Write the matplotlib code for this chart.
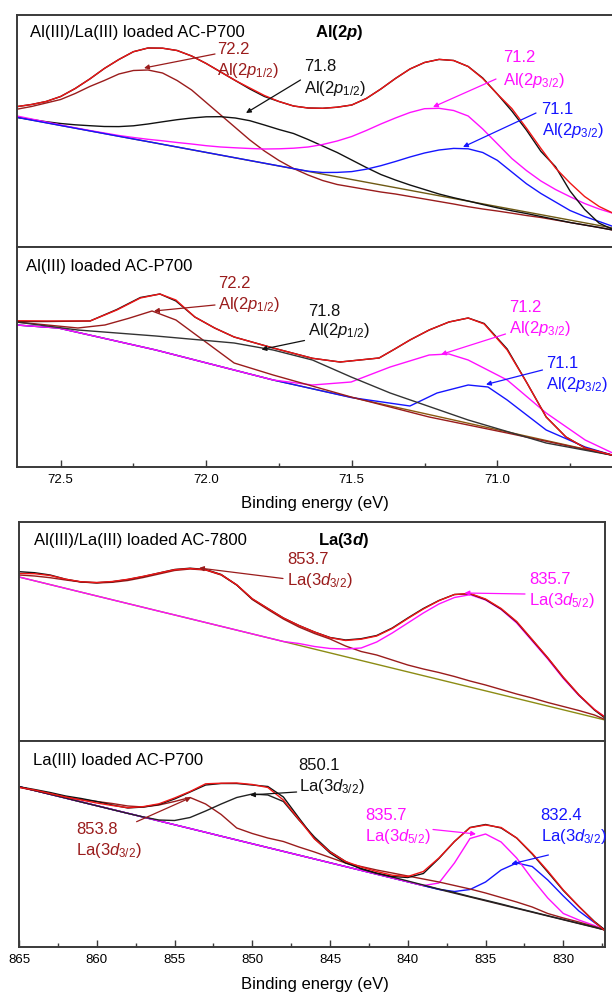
import matplotlib
matplotlib.use("Agg")
import matplotlib.pyplot as plt
from matplotlib.patches import FancyArrowPatch
from matplotlib.ticker import MultipleLocator, FormatStrFormatter

plt.rcParams['font.family'] = ['Liberation Sans', 'DejaVu Sans']
plt.rcParams['mathtext.fontset'] = 'custom'
plt.rcParams['mathtext.rm'] = 'Liberation Sans'
plt.rcParams['mathtext.it'] = 'Liberation Sans:italic'
plt.rcParams['mathtext.bf'] = 'Liberation Sans:bold'
try:
    plt.rcParams['mathtext.bfit'] = 'Liberation Sans:bold:italic'
except KeyError:
    pass

# ---------------- DATA (binding energy eV, intensity a.u.) ----------------
# Panel A1: Al(III)/La(III) loaded AC-P700, Al(2p) -- common energy grid
a1_E = [72.65, 72.60, 72.55, 72.50, 72.45, 72.40, 72.35, 72.30, 72.25, 72.20,
        72.15, 72.10, 72.05, 72.00, 71.95, 71.90, 71.85, 71.80, 71.75, 71.70,
        71.65, 71.60, 71.55, 71.50, 71.45, 71.40, 71.35, 71.30, 71.25, 71.20,
        71.15, 71.10, 71.05, 71.00, 70.95, 70.90, 70.85, 70.80, 70.75, 70.70,
        70.65, 70.60]
a1_fit = [140.4, 142.5, 145.5, 150.5, 158.5, 168, 178.5, 187.5, 195.3, 199,
          198.8, 196.5, 191, 183.5, 175, 166.5, 159, 151.5, 145.5, 141,
          139, 138.7, 139.8, 142, 148.5, 158, 168.5, 178, 184.5, 187.6,
          186.5, 180.5, 168.5, 153, 138.5, 119, 98.5, 79, 64, 50.5,
          40.5, 33.5]
a1_raw = [140.4, 142.5, 145.5, 150.5, 158.5, 168, 178.5, 187.5, 195.3, 199,
          198.8, 196.5, 191, 183.5, 175, 166.5, 158, 150.5, 145.5, 141,
          139, 138.7, 139.8, 142, 148.5, 158, 168.5, 178, 184.5, 187.6,
          186.5, 180.5, 169, 153, 136, 117, 95.6, 80.3, 56, 37.6,
          23.8, 17.2]
a1_p722 = [137.8, 140.5, 144, 147.5, 153.5, 160.5, 166.5, 173, 176.5, 177,
           174, 166.5, 157, 144.5, 132, 119.5, 107, 96, 86.5, 78.5,
           72, 66.5, 62.5, 60, 57.5, 55, 53, 50.5, 48, 45.5,
           43, 40.3, 38, 36, 33.8, 31.5, 29.5, 27, 24.5, 22,
           19.5, 16.8]
a1_p718 = [129.7, 127.5, 125.3, 123.5, 122.2, 121.3, 120.5, 120.4, 121.2, 123,
           125.2, 127.3, 129, 130.2, 130.3, 129, 126.3, 122, 117.5, 113.5,
           107.5, 101, 94.5, 87, 79.5, 72.5, 67, 62, 57.5, 53,
           49.3, 46, 42.5, 39.2, 36.2, 33.5, 30.5, 27.5, 24.5, 22,
           19.5, 16.8]
a1_p712 = [131, 128, 125, 122, 119.2, 116.5, 114, 111.5, 109.5, 107.7,
           106.2, 104.5, 103, 101.3, 100, 99.2, 98.5, 98, 98.2, 98.8,
           100, 102.5, 106, 110.5, 116.5, 123, 129, 134.5, 138.3, 138.7,
           136.5, 131, 118, 103.3, 88.5, 76.5, 66, 57.5, 50.3, 43.5,
           38, 33.5]
a1_p711 = [129.6, 126.9, 124.2, 121.5, 118.8, 116.1, 113.4, 110.7, 108, 105.4,
           102.7, 100, 97.3, 94.6, 91.9, 89.2, 86.5, 83.8, 81.1, 78.4,
           75.8, 74.5, 74.6, 75.4, 77.8, 81.3, 85.5, 90, 94, 97,
           98.6, 98.2, 94.5, 86.7, 75, 63.3, 53.5, 45, 36.5, 30.5,
           25.5, 20.3]
a1_base_E = [72.65, 70.60]
a1_base = [129.7, 18.8]

# Panel A2: Al(III) loaded AC-P700, Al(2p)
a2_fit_E = [72.652, 72.547, 72.399, 72.307, 72.226, 72.159, 72.104, 72.039, 71.971, 71.904,
            71.770, 71.635, 71.540, 71.406, 71.352, 71.300, 71.234, 71.166, 71.100, 71.045,
            70.966, 70.898, 70.832, 70.764, 70.698, 70.600]
a2_fit_I = [146.3, 146, 146, 157, 169, 173, 167, 150, 139, 130,
            119, 108.7, 105, 109, 118, 127, 137, 145, 149, 143,
            117, 84, 50, 30, 19, 11.5]
a2_raw_I = [145.5, 145.5, 146, 157.5, 169.5, 173, 166, 150, 139, 130,
            119, 108.7, 105, 109, 118, 127, 137, 145, 149, 143.5,
            118, 84, 50, 30, 19, 11.5]
a2_p722_E = [72.652, 72.441, 72.348, 72.266, 72.186, 72.104, 72.011, 71.904, 71.770, 71.502,
             71.234, 70.966, 70.600]
a2_p722_I = [145, 139, 142, 148.7, 156, 147, 127, 104, 92, 70,
             50, 34, 11.5]
a2_p718_E = [72.652, 72.441, 72.173, 71.904, 71.770, 71.635, 71.502, 71.368, 71.100, 70.832, 70.600]
a2_p718_I = [145, 137, 131, 124, 117, 107, 90, 74, 47, 24, 11.5]
a2_p712_E = [72.652, 72.508, 72.173, 71.770, 71.635, 71.502, 71.368, 71.234, 71.166, 71.100,
             70.966, 70.832, 70.698, 70.600]
a2_p712_I = [142, 139, 117, 87, 82, 85, 100, 112, 113, 107,
             87, 54, 27, 13.5]
a2_p711_E = [72.652, 72.508, 72.173, 71.770, 71.502, 71.300, 71.207, 71.100, 71.032, 70.966,
             70.832, 70.698, 70.600]
a2_p711_I = [142, 139, 117, 87, 69.5, 61, 74, 82, 80, 67,
             37, 20, 11.5]
a2_base_E = [72.652, 72.508, 72.173, 71.770, 70.600]
a2_base = [142, 139, 117, 87, 11.5]

# La(3d) panels -- common energy grid
la_E = [865, 864, 863, 862, 861, 860, 859, 858, 857, 856,
        855, 854, 853, 852, 851, 850, 849, 848, 847, 846,
        845, 844, 843, 842, 841, 840, 839, 838, 837, 836,
        835, 834, 833, 832, 831, 830, 829, 828, 827.32]

# Panel B1: Al(III)/La(III) loaded AC-7800
b1_raw = [169.3, 168.3, 166, 161.8, 159, 158.3, 159.3, 161.5, 164.5, 168,
          171.5, 172.8, 171.5, 166.5, 156, 142, 132.5, 123, 115.5, 109,
          103.5, 101, 102.3, 105.5, 113, 123, 132.5, 140.5, 146.5, 147.2,
          141.5, 132, 119, 101, 83, 63.5, 46, 31, 23]
b1_fit = [167.5, 167.3, 165.5, 161.8, 159.2, 158.5, 159.5, 161.7, 164.7, 168,
          171.3, 172.5, 171.2, 166.3, 156.2, 142.3, 132.5, 123, 115.5, 109,
          103.3, 100.5, 101.8, 105, 112.5, 122.5, 132, 140.3, 146.5, 147.5,
          142, 132.5, 119.5, 101.5, 83.3, 63.8, 46.3, 31.5, 24]
b1_p8537 = [166, 165, 163.3, 161, 159, 158, 158.7, 160.5, 163.5, 167,
            170.5, 172, 171, 166, 156, 141.5, 131.5, 122, 114, 107.5,
            102, 95, 89.5, 86, 81, 76, 72, 68.5, 64.5, 60,
            56, 51.5, 47, 43, 38.5, 34.5, 30.5, 26, 21.5]
b1_p8357 = [164, 160.2, 156.4, 152.6, 148.8, 145, 141.2, 137.4, 133.6, 129.8,
            126.1, 122.3, 118.5, 114.7, 110.9, 107.1, 103.3, 99.5, 97.5, 94.5,
            92.5, 92, 93, 99, 108, 118, 128, 137, 143.5, 146.3,
            141, 131.5, 118, 100, 82, 62.5, 45.5, 31.5, 24]
b1_base_E = [865, 827.32]
b1_base = [164, 21]

# Panel B2: La(III) loaded AC-P700
b2_raw = [160.3, 157.5, 154.5, 151, 148.5, 145.5, 142, 139, 140, 142.5,
          148, 155, 162, 163.5, 163.5, 162, 160.5, 150, 129, 108.5,
          94, 84, 78.5, 74, 70.5, 69.5, 73.5, 88.5, 105.5, 119.5,
          122.5, 119, 109, 93, 75, 56.5, 40.5, 25.5, 17]
b2_fit = [159.7, 157, 153.5, 150, 147, 144, 141.5, 139.3, 140.4, 143.2,
          149, 155.5, 163.2, 163.8, 164, 162.5, 159.5, 147, 127.5, 108,
          95, 85.5, 80, 75.5, 71.8, 70.5, 75.5, 89, 105.5, 119.3,
          122, 119.5, 109, 93.6, 76, 57, 40.6, 25, 16.3]
b2_p8538 = [159.7, 156.5, 153, 150, 147.5, 145.5, 143.5, 141, 140, 142,
            145.5, 149.5, 143, 132.5, 119, 113.5, 109, 105.5, 100, 95,
            89.5, 84, 80.5, 77, 74, 71, 68, 65, 61.5, 58,
            54, 49.5, 45, 40, 33.5, 29, 25, 20.5, 17]
b2_p8501 = [160.3, 156.5, 152.7, 148.9, 145, 141.2, 137.4, 133.6, 130, 127,
            126.5, 129.5, 136, 143, 149.5, 153, 152, 145.5, 127, 110,
            95.5, 85.5, 78, 73.5, 70, 66, 62, 58, 54.5, 50.5,
            46.8, 43, 39, 35.2, 31.3, 27.5, 23.7, 19.9, 17]
b2_p8357 = [160.3, 156.5, 152.7, 148.9, 145.1, 141.3, 137.5, 133.7, 129.9, 126.1,
            122.3, 118.5, 114.7, 110.8, 107, 103.2, 99.4, 95.6, 91.8, 88,
            84.2, 80.4, 76.6, 72.8, 69, 65.2, 61.4, 64, 84, 108.5,
            113, 105, 89, 68, 49, 33.5, 27, 21.5, 17]
b2_p8324 = [160.3, 156.5, 152.7, 148.9, 145.1, 141.3, 137.5, 133.7, 129.9, 126.1,
            122.3, 118.5, 114.7, 110.8, 107, 103.2, 99.4, 95.6, 91.8, 88,
            84.2, 80.4, 76.6, 72.8, 69, 65.2, 61.4, 57.6, 55.5, 57.5,
            65, 77, 84, 80.5, 67, 51, 36, 24.5, 17]
b2_base_E = [865, 827.32]
b2_base = [160.3, 17]

al_ticks = [72.5, 72.0, 71.5, 71.0]
la_ticks = [865, 860, 855, 850, 845, 840, 835, 830]

# ---------------- STYLE ----------------
W, H = 612, 994
C_DRED = '#9a1c1c'
C_RED = '#f01515'
C_MAG = '#ff10ff'
C_BLUE = '#1515ff'
C_BLK = '#111111'
C_SPINE = '#3a3a3a'
FS = 12

fig = plt.figure(figsize=(W / 100, H / 100), dpi=100)


def rect(l, t, r, b):
    return [l / W, 1 - b / H, (r - l) / W, (b - t) / H]


def fxy(x, y):
    return (x / W, 1 - y / H)


def style_axes(ax, xlim, ylim, show_x):
    ax.set_xlim(*xlim)
    ax.set_ylim(*ylim)
    ax.set_yticks([])
    for s in ax.spines.values():
        s.set_color(C_SPINE)
        s.set_linewidth(1.4)
    if not show_x:
        ax.set_xticks([])


# Al panels run past the right edge of the picture (right border cropped)
axA1 = fig.add_axes(rect(16.7, 15, 614, 247))
axA2 = fig.add_axes(rect(16.7, 247, 614, 467))
axB1 = fig.add_axes(rect(19, 522, 605, 741))
axB2 = fig.add_axes(rect(19, 741, 605, 947))

style_axes(axA1, (72.651, 70.599), (0, 232), False)
style_axes(axA2, (72.651, 70.599), (0, 220), True)
style_axes(axB1, (865, 827.32), (0, 219), False)
style_axes(axB2, (865, 827.32), (0, 206), True)

lw = 1.0
# A1
axA1.plot(a1_base_E, a1_base, color='#6e5a14', lw=lw)
axA1.plot(a1_E, a1_p722, color=C_DRED, lw=lw)
axA1.plot(a1_E, a1_p718, color=C_BLK, lw=lw)
axA1.plot(a1_E, a1_p712, color=C_MAG, lw=lw)
axA1.plot(a1_E, a1_p711, color=C_BLUE, lw=lw)
axA1.plot(a1_E, a1_raw, color=C_BLK, lw=lw)
axA1.plot(a1_E, a1_fit, color=C_RED, lw=lw)
# A2
axA2.plot(a2_base_E, a2_base, color='#8a5a10', lw=lw)
axA2.plot(a2_p711_E, a2_p711_I, color=C_BLUE, lw=lw)
axA2.plot(a2_p712_E, a2_p712_I, color=C_MAG, lw=lw)
axA2.plot(a2_p722_E, a2_p722_I, color=C_DRED, lw=lw)
axA2.plot(a2_p718_E, a2_p718_I, color='#333333', lw=lw)
axA2.plot(a2_fit_E, a2_raw_I, color=C_BLK, lw=lw)
axA2.plot(a2_fit_E, a2_fit_I, color=C_RED, lw=lw)
# B1
axB1.plot(b1_base_E, b1_base, color='#8c8c14', lw=lw)
axB1.plot(la_E, b1_p8537, color=C_DRED, lw=lw)
axB1.plot(la_E, b1_p8357, color=C_MAG, lw=lw)
axB1.plot(la_E, b1_raw, color=C_BLK, lw=lw)
axB1.plot(la_E, b1_fit, color=C_RED, lw=lw)
# B2
axB2.plot(b2_base_E, b2_base, color='#3b1f1f', lw=lw)
axB2.plot(la_E, b2_p8324, color=C_BLUE, lw=lw)
axB2.plot(la_E, b2_p8357, color=C_MAG, lw=lw)
axB2.plot(la_E, b2_p8538, color=C_DRED, lw=lw)
axB2.plot(la_E, b2_p8501, color='#222222', lw=lw)
axB2.plot(la_E, b2_raw, color=C_BLK, lw=lw)
axB2.plot(la_E, b2_fit, color=C_RED, lw=lw)

# ticks
for ax, ticks, minor, fmt in [(axA2, al_ticks, 0.25, '%.1f'), (axB2, la_ticks, 2.5, '%d')]:
    ax.set_xticks(ticks)
    ax.xaxis.set_major_formatter(FormatStrFormatter(fmt))
    ax.xaxis.set_minor_locator(MultipleLocator(minor))
    ax.tick_params(axis='x', which='major', direction='in', length=5, width=1,
                   color=C_SPINE, labelsize=9.5, pad=5, top=False)
    ax.tick_params(axis='x', which='minor', direction='in', length=3, width=1,
                   color=C_SPINE, top=False)
    ax.tick_params(axis='y', left=False, right=False)

fig.text(315 / W, 1 - 503 / H, 'Binding energy (eV)', ha='center', va='center', fontsize=FS)
fig.text(315 / W, 1 - 984 / H, 'Binding energy (eV)', ha='center', va='center', fontsize=FS)

# panel labels
fig.text(*fxy(30, 32), 'Al(III)/La(III) loaded AC-P700', ha='left', va='center', fontsize=FS)
fig.text(*fxy(315, 32), r'Al(2$\boldsymbol{p}$)', ha='left', va='center', fontsize=FS,
         fontweight='bold')
fig.text(*fxy(26.5, 266), 'Al(III) loaded AC-P700', ha='left', va='center', fontsize=FS)
fig.text(*fxy(34, 540), 'Al(III)/La(III) loaded AC-7800', ha='left', va='center', fontsize=FS)
fig.text(*fxy(318, 540), r'La(3$\boldsymbol{d}$)', ha='left', va='center', fontsize=FS,
         fontweight='bold')
fig.text(*fxy(33, 760), 'La(III) loaded AC-P700', ha='left', va='center', fontsize=FS)

P12 = r'Al(2$\mathit{p}_{1/2}$)'
P32 = r'Al(2$\mathit{p}_{3/2}$)'
D32 = r'La(3$\mathit{d}_{3/2}$)'
D52 = r'La(3$\mathit{d}_{5/2}$)'

# (value, label, color, text_x, y_value, y_label, tail, head) in figure pixels
annotations = [
    ('72.2', P12, C_DRED, 217, 50, 71, (215, 54), (144, 68)),
    ('71.8', P12, C_BLK, 304.5, 67, 89, (300.5, 80), (246, 113)),
    ('71.2', P32, C_MAG, 503, 58, 80, (496, 79), (433, 107)),
    ('71.1', P32, C_BLUE, 541.5, 110, 131, (536, 113), (463, 147)),
    ('72.2', P12, C_DRED, 218.5, 283, 304, (215, 305), (154, 311)),
    ('71.8', P12, C_BLK, 308, 311, 331, (304.5, 340.5), (261.5, 349.5)),
    ('71.2', P32, C_MAG, 509, 308, 329, (505.5, 334), (441, 354.5)),
    ('71.1', P32, C_BLUE, 546.5, 363, 384, (542.5, 370), (486, 384.5)),
    ('853.7', D32, C_DRED, 287, 560, 581, (283, 578.5), (199, 568)),
    ('835.7', D52, C_MAG, 529, 580, 601, (525, 594), (464.5, 593)),
    ('850.1', D32, C_BLK, 298.6, 765, 787, (296.6, 792), (250, 795)),
    ('853.8', D32, C_DRED, 76, 830, 851, (136.6, 821.7), (191, 797.5)),
    ('835.7', D52, C_MAG, 365, 815, 837, (433, 829.5), (476, 834)),
    ('832.4', D32, C_BLUE, 540.6, 815, 837, (548.4, 855), (511.3, 864)),
]
for val, lab, col, tx, yv, yl, tail, head in annotations:
    fig.text(*fxy(tx, yv), val, color=col, ha='left', va='center', fontsize=FS)
    fig.text(*fxy(tx, yl), lab, color=col, ha='left', va='center', fontsize=FS)
    fig.add_artist(FancyArrowPatch(
        fxy(*tail), fxy(*head), transform=fig.transFigure, arrowstyle='-|>',
        mutation_scale=7, color=col, lw=0.9, shrinkA=0, shrinkB=0))

fig.savefig('out.png', dpi=100)
